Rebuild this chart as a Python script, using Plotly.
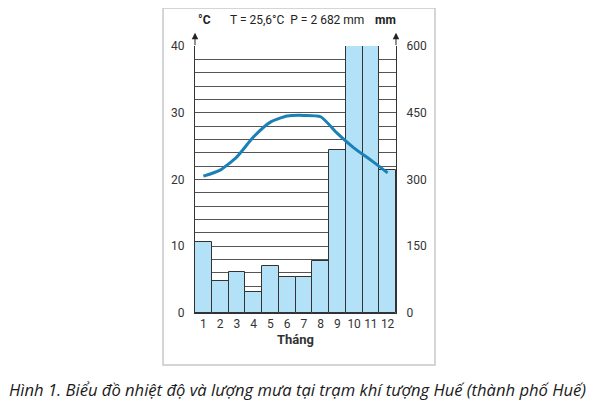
import plotly.graph_objects as go

# Monthly data for Huế station
months = [1, 2, 3, 4, 5, 6, 7, 8, 9, 10, 11, 12]
temperature = [20.5, 21.4, 23.4, 26.4, 28.6, 29.5, 29.6, 29.4, 26.9, 24.7, 22.9, 21.0]  # °C
rainfall = [160, 73, 92, 48, 105, 81, 82, 116, 366, 630, 608, 321]  # mm

temp_ticks = [0, 10, 20, 30, 40]
rain_ticks = [0, 150, 300, 450, 600]

header = "T = 25,6°C  P = 2 682 mm"
caption = "Hình 1. Biểu đồ nhiệt độ và lượng mưa tại trạm khí tượng Huế (thành phố Huế)"

FONT = "Liberation Sans Narrow, Arial Narrow, Roboto, sans-serif"
tick_font = dict(family=FONT, size=12, color="#333333")

fig = go.Figure()

# rain bars on the primary (right-hand) axis so the temperature line sits on top
fig.add_trace(go.Bar(
    x=months,
    y=rainfall,
    yaxis="y",
    marker=dict(color="#b3e1f8", line=dict(color="#333333", width=1)),
    hoverinfo="x+y",
))

fig.add_trace(go.Scatter(
    x=months,
    y=temperature,
    yaxis="y2",
    mode="lines",
    line=dict(color="#1a80b6", width=3, shape="spline", smoothing=0.6),
    hoverinfo="x+y",
))

# page body adds 8px offset, so the figure is 8px smaller and shifted
fig.update_layout(
    width=589,
    height=397,
    autosize=False,
    margin=dict(l=187, r=201, t=38, b=92),
    paper_bgcolor="white",
    plot_bgcolor="white",
    showlegend=False,
    bargap=0,
    xaxis=dict(
        range=[0.5, 12.5],
        tickvals=months,
        ticktext=[str(m) for m in months],
        showgrid=False,
        zeroline=False,
        showline=True,
        linecolor="#333333",
        linewidth=1,
        ticks="",
        tickfont=tick_font,
        title=dict(text="<b>Tháng</b>", font=dict(family=FONT, size=13, color="#333333"), standoff=4),
    ),
    yaxis=dict(
        range=[0, 600],
        tickvals=rain_ticks,
        side="right",
        showgrid=True,
        gridcolor="#555555",
        gridwidth=1,
        minor=dict(dtick=30, showgrid=True, gridcolor="#555555", gridwidth=0.8),
        zeroline=False,
        showline=True,
        linecolor="#333333",
        linewidth=1,
        ticks="",
        ticklabelstandoff=7,
        tickfont=tick_font,
    ),
    yaxis2=dict(
        range=[0, 40],
        tickvals=temp_ticks,
        overlaying="y",
        side="left",
        showgrid=False,
        zeroline=False,
        showline=True,
        linecolor="#333333",
        linewidth=1,
        ticks="",
        ticklabelstandoff=7,
        tickfont=tick_font,
    ),
)

# frame around the chart panel
fig.add_shape(type="rect", xref="paper", yref="paper",
              x0=-0.159, x1=1.194, y0=-0.195, y1=1.142,
              line=dict(color="#c8c8c8", width=1.5), layer="below")

# axis arrows
for xp in (0, 1):
    fig.add_annotation(xref="paper", yref="paper", x=xp, y=1.05, ax=0, ay=14,
                       text="", showarrow=True, arrowhead=2, arrowsize=1.3,
                       arrowwidth=1, arrowcolor="#222222")

unit_font = dict(family=FONT, size=12, color="#222222")
fig.add_annotation(xref="paper", yref="paper", x=0.005, y=1.098, yanchor="middle", text="<b>°C</b>",
                   showarrow=False, font=unit_font)
fig.add_annotation(xref="paper", yref="paper", x=1.01, y=1.098, yanchor="middle", text="<b>mm</b>",
                   showarrow=False, font=unit_font)
fig.add_annotation(xref="paper", yref="paper", x=0.505, y=1.098, yanchor="middle", text=header,
                   showarrow=False, font=dict(family=FONT, size=12, color="#222222"))

fig.add_annotation(xref="paper", yref="paper", x=0.508, y=-0.288, yanchor="middle",
                   text="<i>" + caption + "</i>",
                   showarrow=False, font=dict(family="Open Sans, sans-serif", size=16.6, color="#1a1a1a"))

fig.write_html("out.html")
